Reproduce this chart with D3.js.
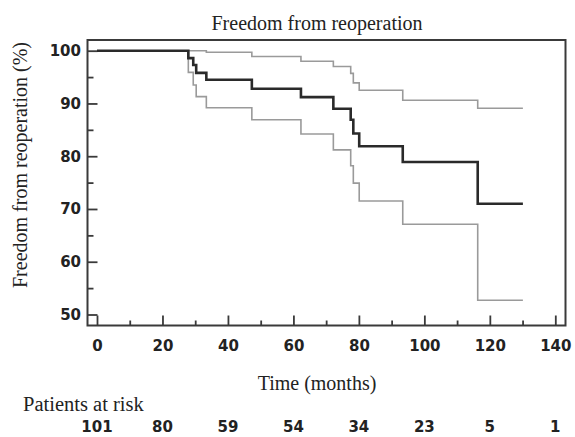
<!DOCTYPE html>
<html>
<head>
<meta charset="utf-8">
<script src="https://cdn.jsdelivr.net/npm/d3@7"></script>
<style>
  html, body { margin: 0; padding: 0; background: #fff; }
  svg { display: block; }
</style>
</head>
<body>
<svg id="chart" width="575" height="437"></svg>
<script>
// ---- Data ----
const months    = [0, 27.9, 29.4, 30.3, 33.4, 47.3, 62.3, 72.2, 77.5, 78.3, 80.1, 93.4, 116.3, 130.1];
const estimate  = [100, 98.6, 97.3, 95.8, 94.5, 92.8, 91.2, 89.0, 86.9, 84.3, 81.9, 78.9, 71.0, 71.0];
const upperCI   = [100, 100, 100, 100, 99.7, 98.9, 98.0, 97.0, 95.7, 93.9, 92.5, 90.6, 89.1, 89.1];
const lowerCI   = [100, 95.9, 93.5, 91.3, 89.2, 86.9, 84.2, 81.2, 78.2, 74.9, 71.5, 67.1, 52.7, 52.7];

const xMajorTicks = [0, 20, 40, 60, 80, 100, 120, 140];
const xMinorTicks = [10, 30, 50, 70, 90, 110, 130];
const yMajorTicks = [50, 60, 70, 80, 90, 100];
const yMinorTicks = [55, 65, 75, 85, 95];

const riskMonths = [0, 20, 40, 60, 80, 100, 120, 140];
const atRisk     = [101, 80, 59, 54, 34, 23, 5, 1];

const titleText  = "Freedom from reoperation";
const yTitleText = "Freedom from reoperation (%)";
const xTitleText = "Time (months)";
const riskTitle  = "Patients at risk";

// ---- Layout ----
const frame = { left: 87.5, top: 40, right: 565.5, bottom: 325.5 };
const svg = d3.select("#chart");

const x = d3.scaleLinear().domain([0, 140]).range([97, 555.3]);
const y = d3.scaleLinear().domain([50, 100]).range([314.5, 50.7]);

const serif = "'Liberation Serif', 'Times New Roman', serif";
const sans  = "'DejaVu Sans', sans-serif";
const textColor = "#222";

// Title
svg.append("text")
  .attr("x", 317).attr("y", 30)
  .attr("text-anchor", "middle")
  .attr("font-family", serif).attr("font-size", 20)
  .attr("fill", textColor)
  .text(titleText);

// Axes: minor ticks
const axisStroke = "#3a3a3a";
function styleAxis(g) {
  g.select(".domain").remove();
  g.selectAll(".tick line").attr("stroke", axisStroke).attr("stroke-width", 1.8);
  g.selectAll("text").attr("font-family", sans).attr("font-weight", "bold")
    .attr("font-size", 15).attr("fill", textColor);
}

svg.append("g")
  .attr("transform", `translate(0,${frame.bottom})`)
  .call(d3.axisBottom(x).tickValues(xMinorTicks).tickSize(-5).tickFormat(""))
  .call(styleAxis);
svg.append("g")
  .attr("transform", `translate(0,${frame.bottom})`)
  .call(d3.axisBottom(x).tickValues(xMajorTicks).tickSize(-10).tickPadding(15).tickFormat(d3.format("d")))
  .call(styleAxis);

svg.append("g")
  .attr("transform", `translate(${frame.left},0)`)
  .call(d3.axisLeft(y).tickValues(yMinorTicks).tickSize(-6).tickFormat(""))
  .call(styleAxis);
svg.append("g")
  .attr("transform", `translate(${frame.left},0)`)
  .call(d3.axisLeft(y).tickValues(yMajorTicks).tickSize(-10).tickPadding(6.5).tickFormat(d3.format("d")))
  .call(styleAxis);

// Frame
svg.append("rect")
  .attr("x", frame.left).attr("y", frame.top)
  .attr("width", frame.right - frame.left)
  .attr("height", frame.bottom - frame.top)
  .attr("fill", "none").attr("stroke", axisStroke).attr("stroke-width", 2);

// Curves
const line = d3.line().curve(d3.curveStepAfter)
  .x(d => x(d[0])).y(d => y(d[1]));

function pairs(vals) { return months.map((m, i) => [m, vals[i]]); }

svg.append("path").datum(pairs(upperCI))
  .attr("d", line).attr("fill", "none")
  .attr("stroke", "#9a9a9a").attr("stroke-width", 1.6);
svg.append("path").datum(pairs(lowerCI))
  .attr("d", line).attr("fill", "none")
  .attr("stroke", "#9a9a9a").attr("stroke-width", 1.6);
svg.append("path").datum(pairs(estimate))
  .attr("d", line).attr("fill", "none")
  .attr("stroke", "#2a2a2a").attr("stroke-width", 2.6);

// Y axis title
svg.append("text")
  .attr("transform", "translate(27,165) rotate(-90)")
  .attr("text-anchor", "middle")
  .attr("font-family", serif).attr("font-size", 20)
  .attr("fill", textColor)
  .text(yTitleText);

// X axis title
svg.append("text")
  .attr("x", 317).attr("y", 390)
  .attr("text-anchor", "middle")
  .attr("font-family", serif).attr("font-size", 20)
  .attr("fill", textColor)
  .text(xTitleText);

// Patients at risk
svg.append("text")
  .attr("x", 23).attr("y", 411)
  .attr("font-family", serif).attr("font-size", 20.5)
  .attr("fill", textColor)
  .text(riskTitle);

svg.append("g").selectAll("text")
  .data(riskMonths.map((m, i) => ({ m, n: atRisk[i] })))
  .join("text")
  .attr("x", d => x(d.m)).attr("y", 432)
  .attr("text-anchor", "middle")
  .attr("font-family", sans).attr("font-weight", "bold").attr("font-size", 15)
  .attr("fill", textColor)
  .text(d => d.n);
</script>
</body>
</html>
